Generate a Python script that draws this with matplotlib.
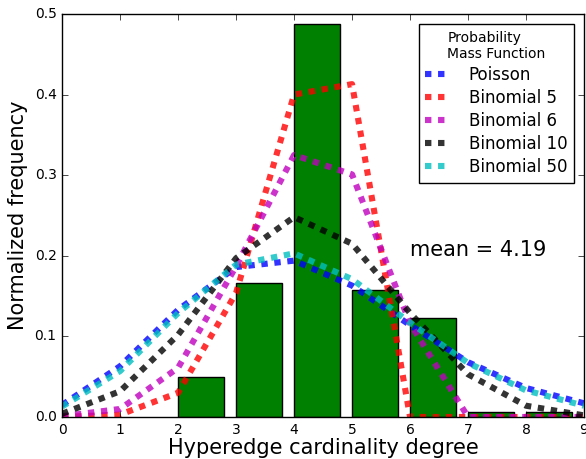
import numpy as np
import matplotlib
matplotlib.use('Agg')
import matplotlib.pyplot as plt
plt.style.use('classic')
import matplotlib as mpl
mpl.rcParams['figure.facecolor'] = '1.0'
mpl.rcParams['lines.scale_dashes'] = False

#------------- data -------------#
degrees = list(range(10))
bar_x = [2, 3, 4, 5, 6, 7, 8]
bar_freq = [0.050, 0.166, 0.487, 0.158, 0.123, 0.006, 0.006]

poisson = [0.015, 0.063, 0.133, 0.186, 0.194, 0.163, 0.114, 0.068, 0.036, 0.017]
binom5 = [0.000, 0.003, 0.030, 0.154, 0.400, 0.413, 0.000, 0.000, 0.000, 0.000]
binom6 = [0.001, 0.010, 0.061, 0.187, 0.325, 0.301, 0.116, 0.000, 0.000, 0.000]
binom10 = [0.004, 0.032, 0.102, 0.197, 0.248, 0.215, 0.129, 0.053, 0.014, 0.002]
binom50 = [0.013, 0.057, 0.129, 0.189, 0.203, 0.171, 0.117, 0.067, 0.033, 0.014]

series = [('Poisson', poisson, 'b'),
          ('Binomial 5', binom5, 'r'),
          ('Binomial 6', binom6, 'm'),
          ('Binomial 10', binom10, 'k'),
          ('Binomial 50', binom50, 'c')]

mean_degree = 4.19

#------------- plot -------------#
fig = plt.figure(figsize=(5.86, 4.59), dpi=100)
ax = fig.add_axes([0.106, 0.0915, 0.8906, 0.878])

ax.bar(bar_x, bar_freq, width=0.8, align='edge', color='g', edgecolor='k', zorder=1)

for label, vals, col in series:
    ax.plot(degrees, vals, color=col, alpha=0.8, lw=4.4, dashes=(4.6, 4.8),
            dash_capstyle='butt', label=label, zorder=2)

ax.text(6.0, 0.2, 'mean = %.2f' % mean_degree, fontsize=15)

ax.set_xlim(0, 9)
ax.set_ylim(0, 0.5)
ax.set_xticks(range(10))
ax.set_yticks(np.arange(0, 0.51, 0.1))
ax.tick_params(labelsize=10)
ax.set_xlabel('Hyperedge cardinality degree', fontsize=15, labelpad=1)
ax.set_ylabel('Normalized frequency', fontsize=15)

leg = ax.legend(loc='upper right', title='Probability\nMass Function',
                fontsize=12, handlelength=1.3, handletextpad=1.3,
                labelspacing=0.3, borderaxespad=0.6, numpoints=1)
leg.get_title().set_fontsize(10)

fig.savefig('out.png', dpi=100)
